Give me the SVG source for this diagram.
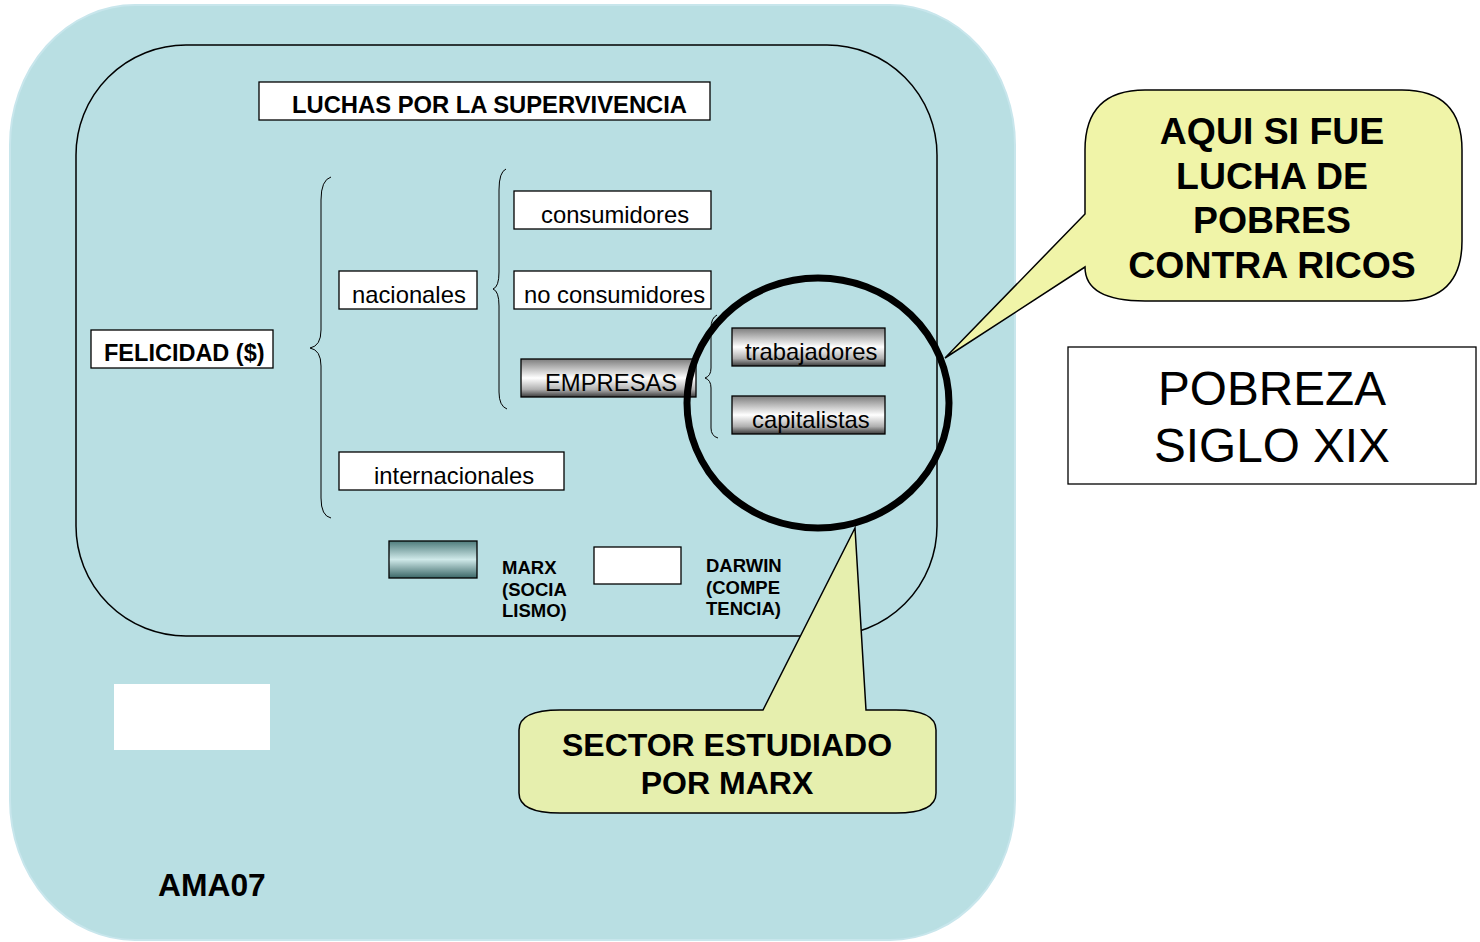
<svg xmlns="http://www.w3.org/2000/svg" width="1480" height="942" viewBox="0 0 1480 942">
<defs>
<linearGradient id="gray" x1="0" y1="0" x2="0" y2="1">
<stop offset="0" stop-color="#7d7d7d"/>
<stop offset="0.5" stop-color="#ffffff"/>
<stop offset="0.8" stop-color="#b0b0b0"/>
<stop offset="1" stop-color="#3a3a3a"/>
</linearGradient>
<linearGradient id="teal" x1="0" y1="0" x2="0" y2="1">
<stop offset="0" stop-color="#4f7c7c"/>
<stop offset="0.5" stop-color="#cfe9e9"/>
<stop offset="1" stop-color="#3b6767"/>
</linearGradient>
<style>
.box{fill:#fff;stroke:#000;stroke-width:1.3}
.gbox{fill:url(#gray);stroke:#000;stroke-width:1.3}
.t{font-family:"Liberation Sans",Arial,sans-serif;fill:#000}
.n{font-size:23.8px}
.b{font-weight:bold}
.brace{fill:none;stroke:#000;stroke-width:1}
.call{stroke:#000;stroke-width:1.5}
</style>
</defs>
<rect x="10" y="5" width="1005" height="935" rx="125" ry="140" fill="#b9dfe3" stroke="#c8e6ec" stroke-width="2"/>
<rect id="inner" x="76" y="45" width="861" height="591" rx="110" ry="110" fill="none" stroke="#000" stroke-width="1.5"/>
<g id="luchas"><rect class="box" x="259" y="82" width="451" height="38"/><text class="t b" x="292" y="113" font-size="23" textLength="395" lengthAdjust="spacingAndGlyphs">LUCHAS POR LA SUPERVIVENCIA</text></g>
<g id="felicidad"><rect class="box" x="91" y="330" width="182" height="38"/><text class="t b" x="104" y="361" font-size="23.5">FELICIDAD ($)</text></g>
<g id="nacionales"><rect class="box" x="339" y="271" width="138" height="38"/><text class="t n" x="352" y="303">nacionales</text></g>
<g id="internacionales"><rect class="box" x="339" y="452" width="225" height="38"/><text class="t n" x="374" y="484">internacionales</text></g>
<g id="consumidores"><rect class="box" x="514" y="191" width="197" height="38"/><text class="t n" x="541" y="223">consumidores</text></g>
<g id="noconsumidores"><rect class="box" x="514" y="271" width="197" height="38"/><text class="t n" x="524" y="303">no consumidores</text></g>
<g id="empresas"><rect class="gbox" x="521" y="359" width="175" height="38"/><text class="t n" x="545" y="391">EMPRESAS</text></g>
<g id="trabajadores"><rect class="gbox" x="732" y="328" width="153" height="38"/><text class="t n" x="745" y="360">trabajadores</text></g>
<g id="capitalistas"><rect class="gbox" x="732" y="396" width="153" height="38"/><text class="t n" x="752" y="428">capitalistas</text></g>
<g id="connectors">
<path class="brace" d="M331,177 Q321,180 321,200 L321,330 Q321,346 310,348 Q321,350 321,366 L321,498 Q321,516 331,518"/>
<path class="brace" d="M506,169 Q499,172 499,190 L499,272 Q499,287 493,289 Q499,291 499,306 L499,392 Q499,406 507,409"/>
<path class="brace" d="M717,315 Q711,318 711,328 L711,368 Q711,376 705,378 Q711,380 711,388 L711,428 Q711,436 718,438"/>
</g>
<ellipse id="circle" cx="818" cy="403" rx="131" ry="125" fill="none" stroke="#000" stroke-width="7"/>
<g id="legend-marx"><rect x="389" y="541" width="88" height="37" fill="url(#teal)" stroke="#000" stroke-width="1.3"/>
<text class="t b" font-size="18.5"><tspan x="502" y="574">MARX</tspan><tspan x="502" y="596">(SOCIA</tspan><tspan x="502" y="617">LISMO)</tspan></text></g>
<g id="legend-darwin"><rect class="box" x="594" y="547" width="87" height="37"/>
<text class="t b" font-size="18.5"><tspan x="706" y="572">DARWIN</tspan><tspan x="706" y="594">(COMPE</tspan><tspan x="706" y="615">TENCIA)</tspan></text></g>
<g id="callout-aqui"><path class="call" fill="#f0f4a8" d="M1145,90 L1402,90 Q1462,90 1462,150 L1462,241 Q1462,301 1402,301 L1145,301 Q1085,301 1085,267 L945,358 L1085,214 L1085,150 Q1085,90 1145,90 Z"/>
<text class="t b" font-size="37.4" text-anchor="middle"><tspan x="1272" y="144">AQUI SI FUE</tspan><tspan x="1272" y="189">LUCHA DE</tspan><tspan x="1272" y="233">POBRES</tspan><tspan x="1272" y="278">CONTRA RICOS</tspan></text></g>
<g id="pobreza"><rect class="box" x="1068" y="347" width="408" height="137"/>
<text class="t" font-size="47.7" text-anchor="middle"><tspan x="1272" y="405">POBREZA</tspan><tspan x="1272" y="462">SIGLO XIX</tspan></text></g>
<g id="callout-sector"><path class="call" fill="#e6efae" d="M560,710 L763,710 L855,528 L866,710 L896,710 Q936,710 936,730 L936,793 Q936,813 896,813 L560,813 Q519,813 519,793 L519,730 Q519,710 560,710 Z"/>
<text class="t b" font-size="32" text-anchor="middle"><tspan x="727" y="756">SECTOR ESTUDIADO</tspan><tspan x="727" y="794">POR MARX</tspan></text></g>
<rect id="blank" x="114" y="684" width="156" height="66" fill="#fff"/>
<text id="ama" class="t b" x="158" y="896" font-size="31.8">AMA07</text>
</svg>
